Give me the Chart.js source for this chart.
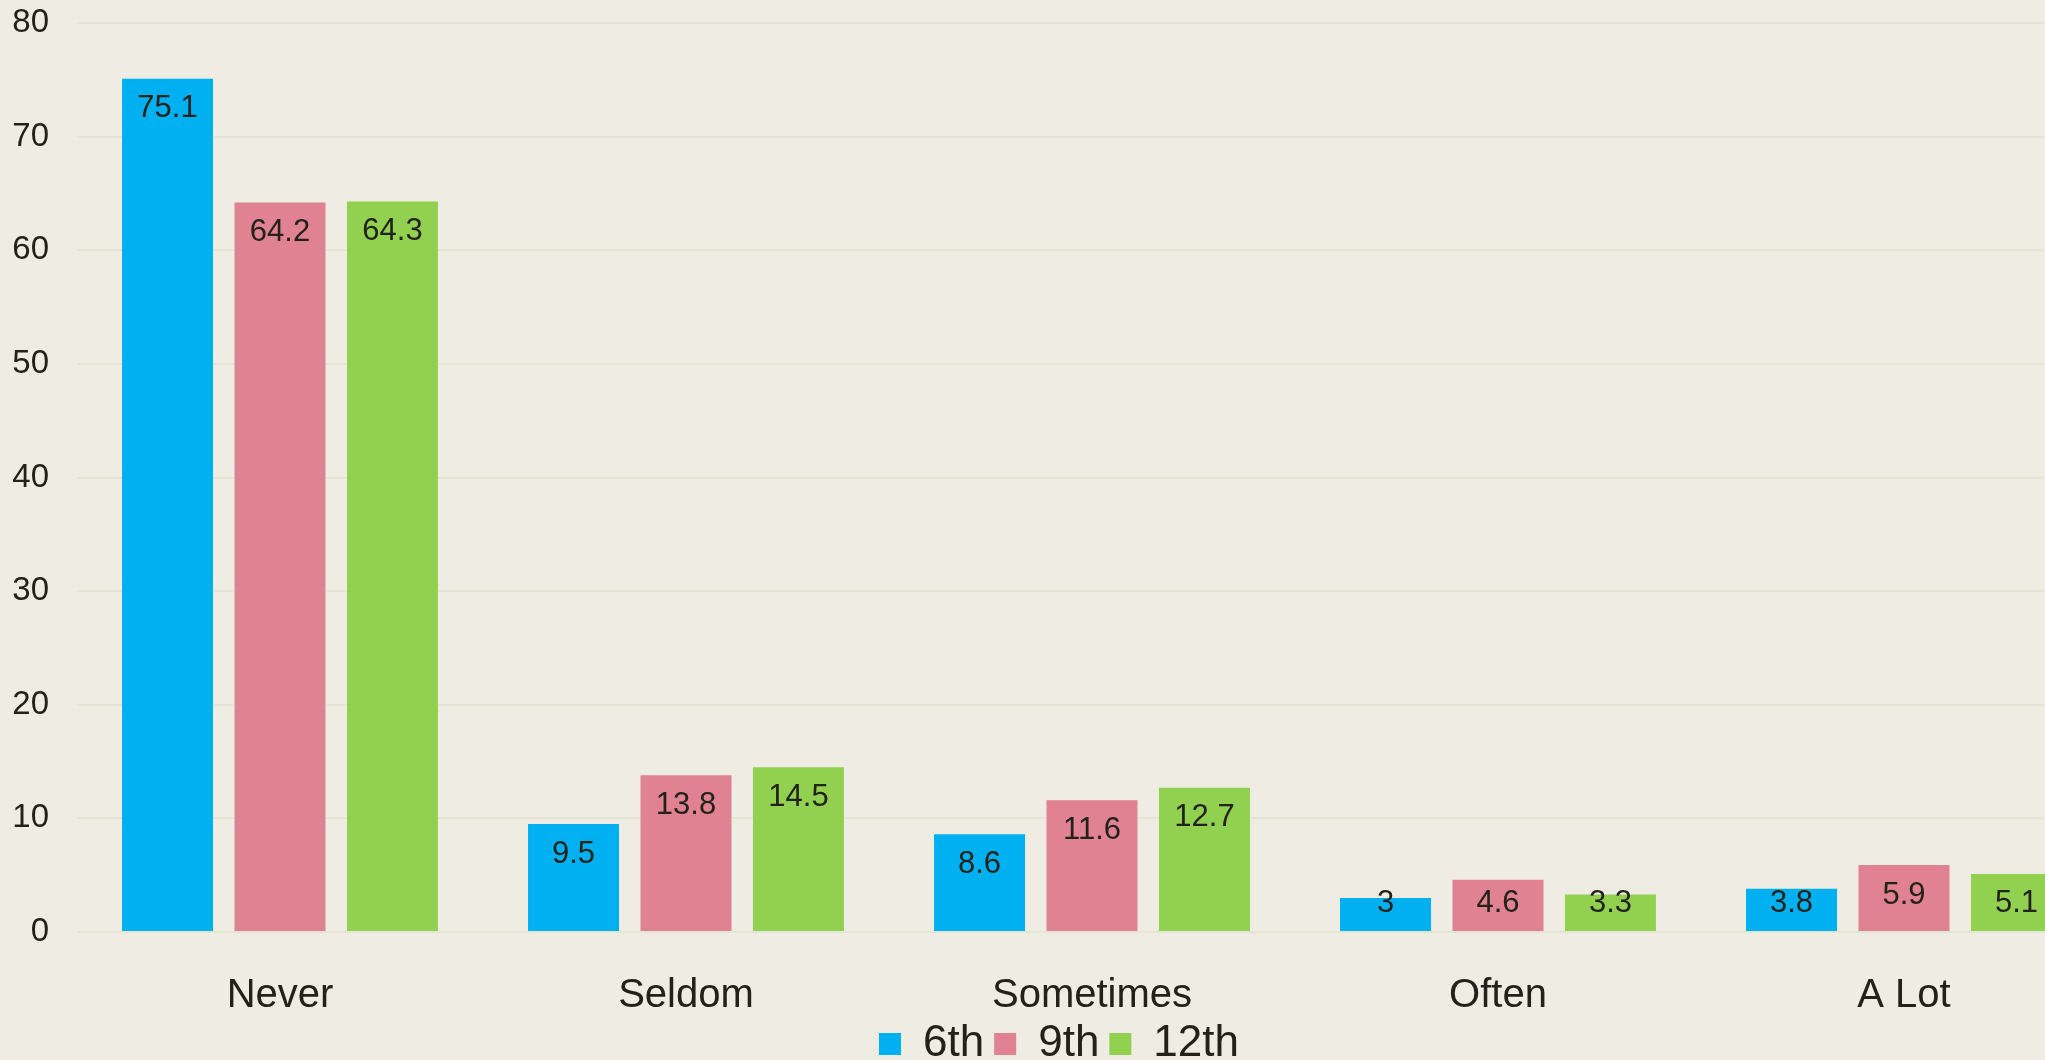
<!DOCTYPE html>
<html>
<head>
<meta charset="utf-8">
<script src="https://cdn.jsdelivr.net/npm/chart.js@4"></script>
<style>
  html, body { margin: 0; padding: 0; background: #efece3; overflow: hidden; }
  #wrap { position: absolute; left: 0; top: 0; width: 2117px; height: 1076px; }
</style>
</head>
<body>
<div id="wrap"><canvas id="chart"></canvas></div>
<script>
const categories = ['Never', 'Seldom', 'Sometimes', 'Often', 'A Lot']
const grade6 = [75.1, 9.5, 8.6, 3, 3.8]
const grade9 = [64.2, 13.8, 11.6, 4.6, 5.9]
const grade12 = [64.3, 14.5, 12.7, 3.3, 5.1]
const yTicks = [0, 10, 20, 30, 40, 50, 60, 70, 80]

const textColor = '#22221a'
const fontFamily = '"Liberation Sans", Arial, sans-serif'

// value labels, inside the top of each bar
const barLabels = {
  id: 'barLabels',
  afterDatasetsDraw(chart) {
    const ctx = chart.ctx
    const base = chart.scales.y.getPixelForValue(0)
    ctx.save()
    ctx.font = '31px ' + fontFamily
    ctx.fillStyle = textColor
    ctx.textAlign = 'center'
    ctx.textBaseline = 'middle'
    chart.data.datasets.forEach((ds, i) => {
      chart.getDatasetMeta(i).data.forEach((bar, j) => {
        const y = Math.min(bar.y + 30, base - 29)
        ctx.fillText(String(ds.data[j]), bar.x, y)
      })
    })
    ctx.restore()
  }
}

new Chart(document.getElementById('chart'), {
  type: 'bar',
  data: {
    labels: categories,
    datasets: [
      { label: '6th', data: grade6, backgroundColor: 'rgb(0, 176, 240)' },
      { label: '9th', data: grade9, backgroundColor: 'rgb(224, 130, 146)' },
      { label: '12th', data: grade12, backgroundColor: 'rgb(146, 208, 80)' }
    ]
  },
  options: {
    responsive: true,
    maintainAspectRatio: false,
    animation: false,
    categoryPercentage: 0.831,
    barPercentage: 0.809,
    layout: { padding: { top: 23, left: 11, right: 10, bottom: 0 } },
    plugins: {
      legend: {
        position: 'bottom',
        labels: {
          boxWidth: 22,
          boxHeight: 22,
          padding: 10,
          color: textColor,
          font: { size: 44, family: fontFamily }
        }
      },
      tooltip: { enabled: false }
    },
    scales: {
      x: {
        grid: { display: false, drawTicks: false },
        border: { display: false },
        ticks: { color: textColor, padding: 46, font: { size: 40, lineHeight: 0.9, family: fontFamily } },
        afterFit: (scale) => { scale.height = 80 }
      },
      y: {
        min: 0,
        max: 80,
        afterBuildTicks: (scale) => { scale.ticks = yTicks.map(v => ({ value: v })) },
        grid: { color: '#e2e6d2', lineWidth: 2, drawTicks: true, tickLength: 28, tickColor: 'rgba(0,0,0,0)' },
        border: { display: false },
        ticks: { color: textColor, padding: 0, font: { size: 33, family: fontFamily } },
        afterFit: (scale) => { scale.width = 66 }
      }
    }
  },
  plugins: [barLabels]
})
</script>
</body>
</html>
